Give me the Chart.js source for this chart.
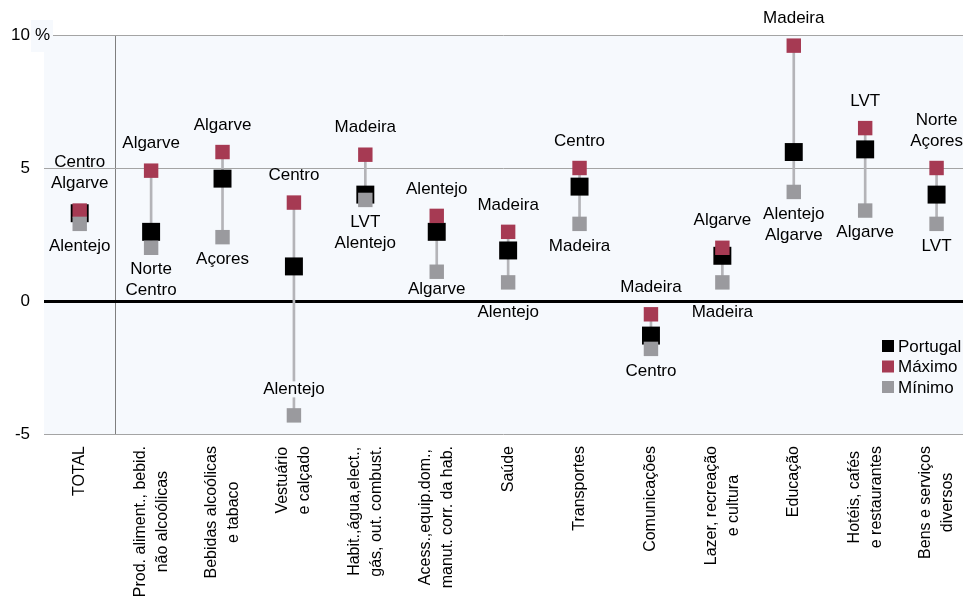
<!DOCTYPE html>
<html>
<head>
<meta charset="utf-8">
<script src="https://cdn.jsdelivr.net/npm/chart.js@4/dist/chart.umd.min.js"></script>
<style>
  html, body { margin: 0; padding: 0; background: #fff; overflow: hidden; }
  #wrap { width: 963px; height: 597px; }
</style>
</head>
<body>
<div id="wrap"><canvas id="chart" width="963" height="597"></canvas></div>
<script>
// categories (line breaks as in the picture)
const categories = [
  ['TOTAL'],
  ['Prod. aliment., bebid.', 'não alcoólicas'],
  ['Bebidas alcoólicas', 'e tabaco'],
  ['Vestuário', 'e calçado'],
  ['Habit.,água,elect.,', 'gás, out. combust.'],
  ['Acess.,equip.dom.,', 'manut. corr. da hab.'],
  ['Saúde'],
  ['Transportes'],
  ['Comunicações'],
  ['Lazer, recreação', 'e cultura'],
  ['Educação'],
  ['Hotéis, cafés', 'e restaurantes'],
  ['Bens e serviços', 'diversos']
];

const portugal = [3.3, 2.6, 4.6, 1.3, 4.0, 2.6, 1.9, 4.3, -1.3, 1.7, 5.6, 5.7, 4.0];
const maximo   = [3.4, 4.9, 5.6, 3.7, 5.5, 3.2, 2.6, 5.0, -0.5, 2.0, 9.6, 6.5, 5.0];
const minimo   = [2.9, 2.0, 2.4, -4.3, 3.8, 1.1, 0.7, 2.9, -1.8, 0.7, 4.1, 3.4, 2.9];

const maxRegions = [['Centro', 'Algarve'], ['Algarve'], ['Algarve'], ['Centro'], ['Madeira'], ['Alentejo'],
  ['Madeira'], ['Centro'], ['Madeira'], ['Algarve'], ['Madeira'], ['LVT'], ['Norte', 'Açores']];
const minRegions = [['Alentejo'], ['Norte', 'Centro'], ['Açores'], ['Alentejo'], ['LVT', 'Alentejo'], ['Algarve'],
  ['Alentejo'], ['Madeira'], ['Centro'], ['Madeira'], ['Alentejo', 'Algarve'], ['Algarve'], ['LVT']];

const yTicks = [-5, 0, 5, 10];

const seriesNames = ['Portugal', 'Máximo', 'Mínimo'];
const RED = '#a63a53';
const GREY = '#9a9a9e';
const BG = '#f6f9fd';
const FONT = '"Liberation Sans", Arial, sans-serif';

const xy = (arr) => arr.map((v, i) => ({ x: i, y: v }));

// background of plot area
const bgPlugin = {
  id: 'bg',
  beforeDraw(chart) {
    const { ctx, chartArea: a } = chart;
    ctx.save();
    ctx.fillStyle = BG;
    ctx.fillRect(a.left, a.top, a.right - a.left, a.bottom - a.top);
    ctx.restore();
  }
};

// region labels, category labels, legend, % sign
const textPlugin = {
  id: 'texts',
  afterDraw(chart) {
    const { ctx, chartArea: a } = chart;
    const x = chart.scales.x, y = chart.scales.y;
    const y0 = y.getPixelForValue(0);
    ctx.save();
    ctx.font = '17px ' + FONT;
    ctx.textAlign = 'center';
    ctx.textBaseline = 'middle';

    // keep labels off the zero line
    const avoidZero = (py) => {
      if (Math.abs(py - y0) < 10) return py < y0 ? y0 - 12 : y0 + 11;
      return py;
    };
    const label = (t, px, py, mask) => {
      if (mask) {
        const w = ctx.measureText(t).width;
        ctx.fillStyle = BG;
        ctx.fillRect(px - w / 2 - 2, py - 8, w + 4, 16);
      }
      ctx.fillStyle = '#000';
      ctx.fillText(t, px, py);
    };

    categories.forEach((c, i) => {
      const px = x.getPixelForValue(i);
      // above max
      const yMax = y.getPixelForValue(maximo[i]);
      const up = maxRegions[i];
      up.forEach((t, j) => label(t, px, avoidZero(yMax - 27 - (up.length - 1 - j) * 21)));
      // below min (or above it when there is no room)
      const yMin = y.getPixelForValue(minimo[i]);
      const dn = minRegions[i];
      if (yMin + 23 + dn.length * 21 > a.bottom) {
        dn.forEach((t, j) => label(t, px, yMin - 26 - (dn.length - 1 - j) * 21, true));
      } else {
        dn.forEach((t, j) => label(t, px, avoidZero(yMin + 22 + j * 21)));
      }
    });

    // category labels, rotated
    ctx.font = '16px ' + FONT;
    ctx.fillStyle = '#000';
    categories.forEach((c, i) => {
      const px = x.getPixelForValue(i);
      const maxW = Math.max(...c.map(t => ctx.measureText(t).width));
      c.forEach((t, j) => {
        ctx.save();
        ctx.translate(px + (j - (c.length - 1) / 2) * 22, a.bottom + 12 + maxW / 2);
        ctx.rotate(-Math.PI / 2);
        ctx.fillText(t, 0, 0);
        ctx.restore();
      });
    });

    // "%" next to the top tick
    const y10 = y.getPixelForValue(10);
    ctx.fillStyle = BG;
    ctx.fillRect(31, y10 - 15, 22, 32);
    ctx.fillStyle = '#000';
    ctx.font = '17px ' + FONT;
    ctx.textAlign = 'left';
    ctx.fillText('%', 35, y10);

    // legend
    const colors = ['#000', RED, GREY];
    seriesNames.forEach((n, k) => {
      const ly = 346 + k * 20.5;
      ctx.fillStyle = colors[k];
      ctx.fillRect(882, ly - 6, 12, 12);
      ctx.fillStyle = '#000';
      ctx.fillText(n, 898, ly + 1);
    });
    ctx.restore();
  }
};

new Chart(document.getElementById('chart'), {
  type: 'bar',
  data: {
    datasets: [
      {
        label: 'range',
        data: minimo.map((v, i) => ({ x: i, y: [v, maximo[i]] })),
        backgroundColor: '#b4b4b8',
        barThickness: 2,
        order: 10
      },
      {
        type: 'line',
        label: seriesNames[0],
        data: xy(portugal),
        showLine: false,
        pointStyle: 'rect',
        pointRadius: 12.7,
        pointBackgroundColor: '#000',
        pointBorderWidth: 0,
        order: 5
      },
      {
        type: 'line',
        label: seriesNames[1],
        data: xy(maximo),
        showLine: false,
        pointStyle: 'rect',
        pointRadius: 10.2,
        pointBackgroundColor: RED,
        pointBorderWidth: 0,
        order: 2
      },
      {
        type: 'line',
        label: seriesNames[2],
        data: xy(minimo),
        showLine: false,
        pointStyle: 'rect',
        pointRadius: 10.2,
        pointBackgroundColor: GREY,
        pointBorderWidth: 0,
        order: 1
      }
    ]
  },
  options: {
    responsive: false,
    animation: false,
    layout: { autoPadding: false, padding: { top: 35, bottom: 163, left: 0, right: 0 } },
    plugins: {
      legend: { display: false },
      tooltip: { enabled: false }
    },
    scales: {
      x: {
        type: 'linear',
        min: -0.5,
        max: 12.37,
        offset: false,
        afterBuildTicks: (s) => { s.ticks = [{ value: 0.5 }]; },
        ticks: { display: false },
        border: { display: false },
        grid: {
          offset: false,
          drawTicks: false,
          color: '#7f7f7f',
          lineWidth: 1
        }
      },
      y: {
        min: -5,
        max: 10,
        afterFit: (s) => { s.width = 44; },
        afterBuildTicks: (s) => { s.ticks = yTicks.map(v => ({ value: v })); },
        ticks: {
          padding: 14,
          color: '#000',
          font: { family: FONT, size: 17 },
          callback: (v) => String(v)
        },
        border: { display: false },
        grid: {
          drawTicks: false,
          color: (c) => c.tick && c.tick.value === 0 ? '#000' : '#a4a4a4',
          lineWidth: (c) => c.tick && c.tick.value === 0 ? 3 : 1
        }
      }
    }
  },
  plugins: [bgPlugin, textPlugin]
});
</script>
</body>
</html>
